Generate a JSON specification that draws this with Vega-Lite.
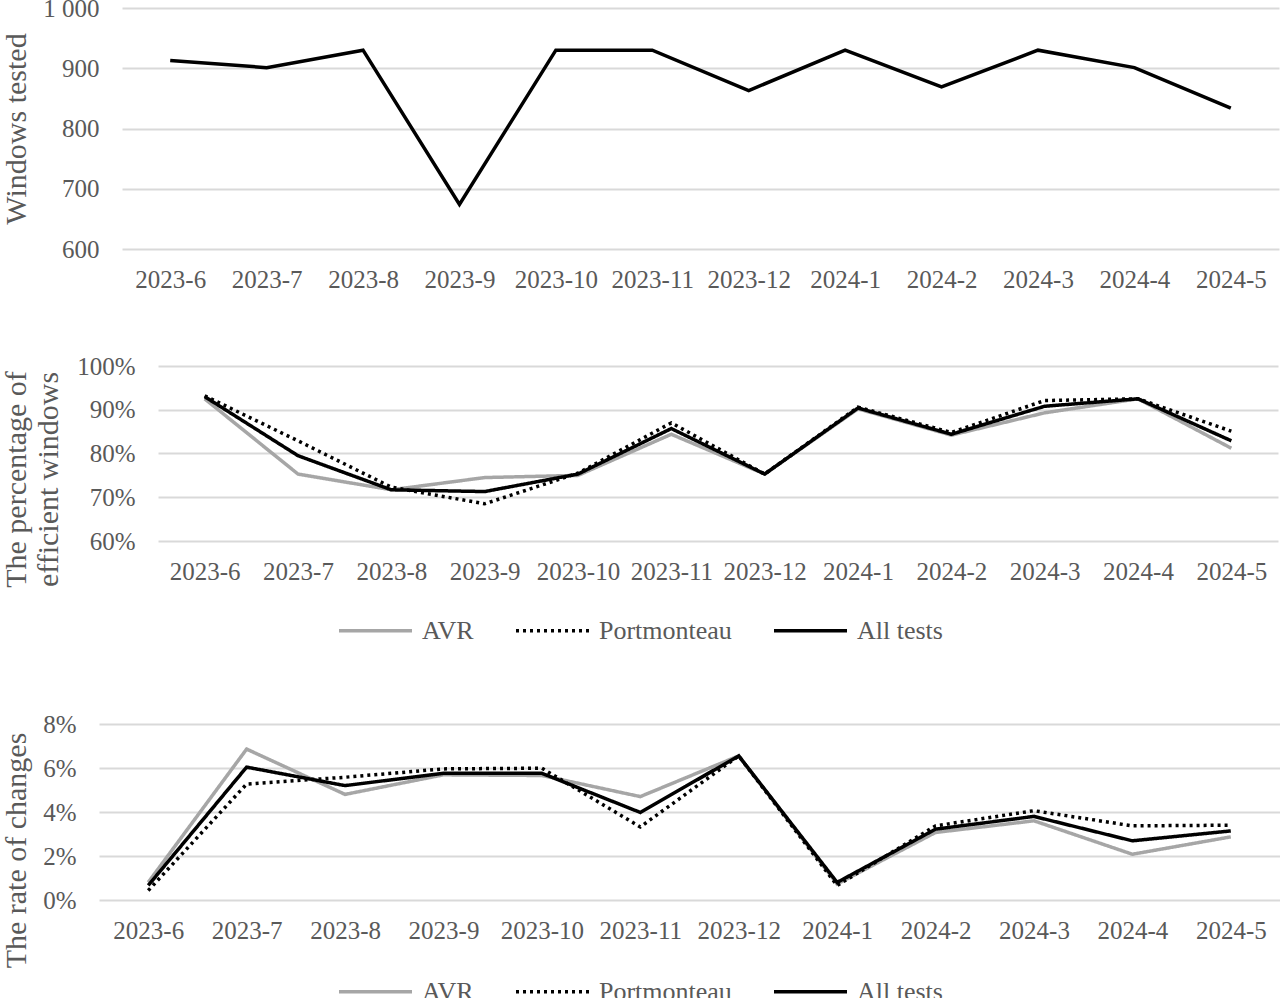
{
  "$schema": "https://vega.github.io/schema/vega-lite/v6.json",
  "background": "white",
  "padding": {"left": 0, "top": -4, "right": 0, "bottom": 0},
  "spacing": 62,
  "datasets": {
    "blank": [{"k": 0}],
    "tested": [
      {"month": "2023-6", "windows": 913},
      {"month": "2023-7", "windows": 901},
      {"month": "2023-8", "windows": 930},
      {"month": "2023-9", "windows": 674},
      {"month": "2023-10", "windows": 930},
      {"month": "2023-11", "windows": 930},
      {"month": "2023-12", "windows": 863},
      {"month": "2024-1", "windows": 930},
      {"month": "2024-2", "windows": 869},
      {"month": "2024-3", "windows": 930},
      {"month": "2024-4", "windows": 901},
      {"month": "2024-5", "windows": 834}
    ],
    "efficient": [
      {"month": "2023-6", "series": "AVR", "value": 0.925},
      {"month": "2023-7", "series": "AVR", "value": 0.753},
      {"month": "2023-8", "series": "AVR", "value": 0.717},
      {"month": "2023-9", "series": "AVR", "value": 0.745},
      {"month": "2023-10", "series": "AVR", "value": 0.750},
      {"month": "2023-11", "series": "AVR", "value": 0.844},
      {"month": "2023-12", "series": "AVR", "value": 0.753},
      {"month": "2024-1", "series": "AVR", "value": 0.902},
      {"month": "2024-2", "series": "AVR", "value": 0.842},
      {"month": "2024-3", "series": "AVR", "value": 0.893},
      {"month": "2024-4", "series": "AVR", "value": 0.925},
      {"month": "2024-5", "series": "AVR", "value": 0.812},
      {"month": "2023-6", "series": "Portmonteau", "value": 0.932},
      {"month": "2023-7", "series": "Portmonteau", "value": 0.829},
      {"month": "2023-8", "series": "Portmonteau", "value": 0.723},
      {"month": "2023-9", "series": "Portmonteau", "value": 0.685},
      {"month": "2023-10", "series": "Portmonteau", "value": 0.755},
      {"month": "2023-11", "series": "Portmonteau", "value": 0.870},
      {"month": "2023-12", "series": "Portmonteau", "value": 0.753},
      {"month": "2024-1", "series": "Portmonteau", "value": 0.906},
      {"month": "2024-2", "series": "Portmonteau", "value": 0.848},
      {"month": "2024-3", "series": "Portmonteau", "value": 0.921},
      {"month": "2024-4", "series": "Portmonteau", "value": 0.925},
      {"month": "2024-5", "series": "Portmonteau", "value": 0.851},
      {"month": "2023-6", "series": "All tests", "value": 0.930},
      {"month": "2023-7", "series": "All tests", "value": 0.795},
      {"month": "2023-8", "series": "All tests", "value": 0.717},
      {"month": "2023-9", "series": "All tests", "value": 0.713},
      {"month": "2023-10", "series": "All tests", "value": 0.753},
      {"month": "2023-11", "series": "All tests", "value": 0.857},
      {"month": "2023-12", "series": "All tests", "value": 0.753},
      {"month": "2024-1", "series": "All tests", "value": 0.904},
      {"month": "2024-2", "series": "All tests", "value": 0.844},
      {"month": "2024-3", "series": "All tests", "value": 0.908},
      {"month": "2024-4", "series": "All tests", "value": 0.925},
      {"month": "2024-5", "series": "All tests", "value": 0.829}
    ],
    "changes": [
      {"month": "2023-6", "series": "AVR", "value": 0.0080},
      {"month": "2023-7", "series": "AVR", "value": 0.0686},
      {"month": "2023-8", "series": "AVR", "value": 0.0480},
      {"month": "2023-9", "series": "AVR", "value": 0.0569},
      {"month": "2023-10", "series": "AVR", "value": 0.0566},
      {"month": "2023-11", "series": "AVR", "value": 0.0470},
      {"month": "2023-12", "series": "AVR", "value": 0.0655},
      {"month": "2024-1", "series": "AVR", "value": 0.0073},
      {"month": "2024-2", "series": "AVR", "value": 0.0307},
      {"month": "2024-3", "series": "AVR", "value": 0.0360},
      {"month": "2024-4", "series": "AVR", "value": 0.0208},
      {"month": "2024-5", "series": "AVR", "value": 0.0287},
      {"month": "2023-6", "series": "Portmonteau", "value": 0.0043},
      {"month": "2023-7", "series": "Portmonteau", "value": 0.0527},
      {"month": "2023-8", "series": "Portmonteau", "value": 0.0558},
      {"month": "2023-9", "series": "Portmonteau", "value": 0.0596},
      {"month": "2023-10", "series": "Portmonteau", "value": 0.0599},
      {"month": "2023-11", "series": "Portmonteau", "value": 0.0332},
      {"month": "2023-12", "series": "Portmonteau", "value": 0.0655},
      {"month": "2024-1", "series": "Portmonteau", "value": 0.0066},
      {"month": "2024-2", "series": "Portmonteau", "value": 0.0337},
      {"month": "2024-3", "series": "Portmonteau", "value": 0.0406},
      {"month": "2024-4", "series": "Portmonteau", "value": 0.0337},
      {"month": "2024-5", "series": "Portmonteau", "value": 0.0340},
      {"month": "2023-6", "series": "All tests", "value": 0.0066},
      {"month": "2023-7", "series": "All tests", "value": 0.0604},
      {"month": "2023-8", "series": "All tests", "value": 0.0520},
      {"month": "2023-9", "series": "All tests", "value": 0.0576},
      {"month": "2023-10", "series": "All tests", "value": 0.0576},
      {"month": "2023-11", "series": "All tests", "value": 0.0398},
      {"month": "2023-12", "series": "All tests", "value": 0.0655},
      {"month": "2024-1", "series": "All tests", "value": 0.0080},
      {"month": "2024-2", "series": "All tests", "value": 0.0322},
      {"month": "2024-3", "series": "All tests", "value": 0.0380},
      {"month": "2024-4", "series": "All tests", "value": 0.0269},
      {"month": "2024-5", "series": "All tests", "value": 0.0314}
    ]
  },
  "vconcat": [
    {
      "spacing": 0,
      "hconcat": [
        {"width": 1, "height": 1, "data": {"name": "blank"}, "mark": {"type": "rect", "opacity": 0}, "encoding": {}},
        {
          "width": 1157, "height": 241,
          "data": {"name": "tested"},
          "mark": {"type": "line", "color": "#000000", "strokeWidth": 3.5},
          "encoding": {
            "x": {"field": "month", "type": "ordinal", "sort": null, "scale": {"type": "point", "padding": 0.5}},
            "y": {"field": "windows", "type": "quantitative", "title": "Windows tested",
              "scale": {"domain": [600, 1000], "zero": false},
              "axis": {"values": [600, 700, 800, 900, 1000], "labelExpr": "replace(format(datum.value, ','), ',', ' ')", "labelPadding": 23, "titlePadding": 11}}
          }
        }
      ]
    },
    {
      "spacing": 68,
      "vconcat": [
        {
          "spacing": 0,
          "hconcat": [
            {"width": 1, "height": 1, "data": {"name": "blank"}, "mark": {"type": "rect", "opacity": 0}, "encoding": {}},
            {
              "width": 1120, "height": 175,
              "data": {"name": "efficient"},
              "mark": {"type": "line", "strokeWidth": 3.5},
              "encoding": {
                "x": {"field": "month", "type": "ordinal", "sort": null, "scale": {"type": "point", "padding": 0.5}},
                "y": {"field": "value", "type": "quantitative", "title": ["The percentage of", "efficient windows"],
                  "scale": {"domain": [0.6, 1.0], "zero": false},
                  "axis": {"values": [0.6, 0.7, 0.8, 0.9, 1.0], "format": ".0%", "labelPadding": 23, "titlePadding": 13, "titleLineHeight": 32, "titleY": 113}},
                "color": {"field": "series", "type": "nominal", "sort": null,
                  "scale": {"domain": ["AVR", "Portmonteau", "All tests"], "range": ["#a6a6a6", "#000000", "#000000"]},
                  "legend": {"title": null, "legendX": 337, "legendY": 226}},
                "strokeDash": {"field": "series", "type": "nominal", "sort": null,
                  "scale": {"domain": ["AVR", "Portmonteau", "All tests"], "range": [[1, 0], [3, 4], [1, 0]]},
                  "legend": {"title": null, "legendX": 337, "legendY": 226}}
              }
            }
          ]
        },
        {
          "spacing": 0,
          "hconcat": [
            {"width": 1, "height": 1, "data": {"name": "blank"}, "mark": {"type": "rect", "opacity": 0}, "encoding": {}},
            {
              "width": 1181, "height": 176,
              "data": {"name": "changes"},
              "mark": {"type": "line", "strokeWidth": 3.5},
              "encoding": {
                "x": {"field": "month", "type": "ordinal", "sort": null, "scale": {"type": "point", "padding": 0.5}},
                "y": {"field": "value", "type": "quantitative", "title": "The rate of changes",
                  "scale": {"domain": [0, 0.08]},
                  "axis": {"values": [0, 0.02, 0.04, 0.06, 0.08], "format": ".0%", "labelPadding": 23, "titlePadding": 11, "titleY": 126}},
                "color": {"field": "series", "type": "nominal", "sort": null,
                  "scale": {"domain": ["AVR", "Portmonteau", "All tests"], "range": ["#a6a6a6", "#000000", "#000000"]},
                  "legend": {"title": null, "legendX": 337, "legendY": 229}},
                "strokeDash": {"field": "series", "type": "nominal", "sort": null,
                  "scale": {"domain": ["AVR", "Portmonteau", "All tests"], "range": [[1, 0], [3, 4], [1, 0]]},
                  "legend": {"title": null, "legendX": 337, "legendY": 229}}
              }
            }
          ]
        }
      ],
      "resolve": {
        "scale": {"x": "independent", "y": "independent", "color": "independent", "strokeDash": "independent"},
        "legend": {"color": "independent", "strokeDash": "independent"}
      }
    }
  ],
  "resolve": {
    "scale": {"x": "independent", "y": "independent", "color": "independent", "strokeDash": "independent"},
    "legend": {"color": "independent", "strokeDash": "independent"}
  },
  "config": {
    "font": "Liberation Serif",
    "view": {"stroke": null},
    "axis": {
      "labelFont": "Liberation Serif", "labelFontSize": 25, "labelColor": "#595959",
      "titleFont": "Liberation Serif", "titleFontSize": 30, "titleColor": "#595959", "titleFontWeight": "normal",
      "domain": false, "ticks": false
    },
    "axisX": {"grid": false, "labelAngle": 0, "title": null, "labelPadding": 18, "labelOverlap": false, "labelFlush": false},
    "axisY": {"grid": true, "gridColor": "#d9d9d9", "gridWidth": 2},
    "legend": {
      "orient": "none", "direction": "horizontal", "symbolType": "stroke", "symbolSize": 5329,
      "symbolStrokeWidth": 3.5, "labelFont": "Liberation Serif", "labelFontSize": 26, "labelColor": "#595959",
      "labelOffset": 8, "columnPadding": 35, "padding": 0
    }
  }
}
